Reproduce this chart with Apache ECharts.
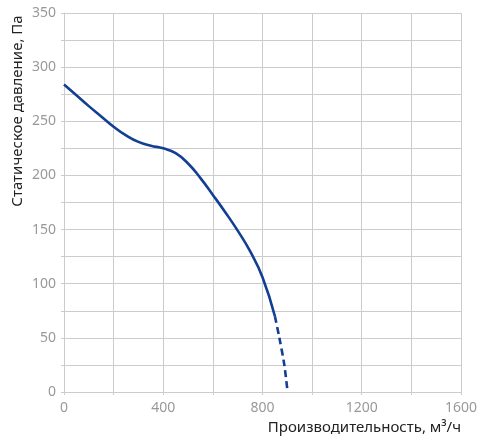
<!DOCTYPE html>
<html><head><meta charset="utf-8">
<script src="https://cdn.jsdelivr.net/npm/echarts@6/dist/echarts.min.js"></script>
<style>html,body{margin:0;padding:0;background:#fff}#c{width:480px;height:439px}</style>
</head><body><div id="c"></div>
<script>
const solidX = [0, 50, 100, 150, 200, 250, 300, 350, 400, 450, 500, 550, 600, 650, 700, 750, 800, 850];
const solidY = [284, 274, 264, 254.5, 245, 237, 231, 227.5, 225, 220.5, 211, 197.5, 182, 166, 149, 130, 106, 70];
const dashX = [850, 868, 888, 901];
const dashY = [70, 50, 25, 0];
const xName = 'Производительность, м³/ч';
const yName = 'Статическое давление, Па';
const xLabels = [0, 400, 800, 1200, 1600];
const yLabels = [0, 50, 100, 150, 200, 250, 300, 350];

const chart = echarts.init(document.getElementById('c'), null, {renderer:'canvas'});
const font = 'Noto Sans';
chart.setOption({
  animation:false,
  grid:{left:64,right:18,top:13,bottom:47},
  xAxis:{type:'value',min:0,max:1600,interval:200,
    axisLine:{show:true,lineStyle:{color:'#cccccc',width:1}},
    axisTick:{show:true,length:3,lineStyle:{color:'#cccccc'}},
    splitLine:{show:true,lineStyle:{color:'#cccccc',width:1}},
    axisLabel:{color:'#999999',fontSize:14,fontFamily:font,margin:9,
      formatter:v=>xLabels.includes(v)?String(v):''},
    name:xName,nameLocation:'end',nameGap:0,
    nameTextStyle:{color:'#222',fontSize:15,fontFamily:font,align:'right',verticalAlign:'top',padding:[28,0,0,0]}
  },
  yAxis:{type:'value',min:0,max:350,interval:25,
    axisLine:{show:true,lineStyle:{color:'#cccccc',width:1}},
    axisTick:{show:true,length:3,lineStyle:{color:'#cccccc'}},
    splitLine:{show:true,lineStyle:{color:'#cccccc',width:1}},
    axisLabel:{color:'#999999',fontSize:14,fontFamily:font,margin:8,
      formatter:v=>yLabels.includes(v)?String(v):''}
  },
  graphic:[{type:'text',x:18,y:111,rotation:Math.PI/2,
    style:{text:yName,fill:'#222',font:'15px "Noto Sans"',align:'center',verticalAlign:'middle'}}],
  series:[
    {type:'line',data:solidX.map((x,i)=>[x,solidY[i]]),smooth:0.5,symbol:'none',
      lineStyle:{color:'#123f93',width:2.6}},
    {type:'line',data:dashX.map((x,i)=>[x,dashY[i]]),smooth:0.3,symbol:'none',
      lineStyle:{color:'#123f93',width:2.6,type:[7,4]}}
  ]
});
</script></body></html>
